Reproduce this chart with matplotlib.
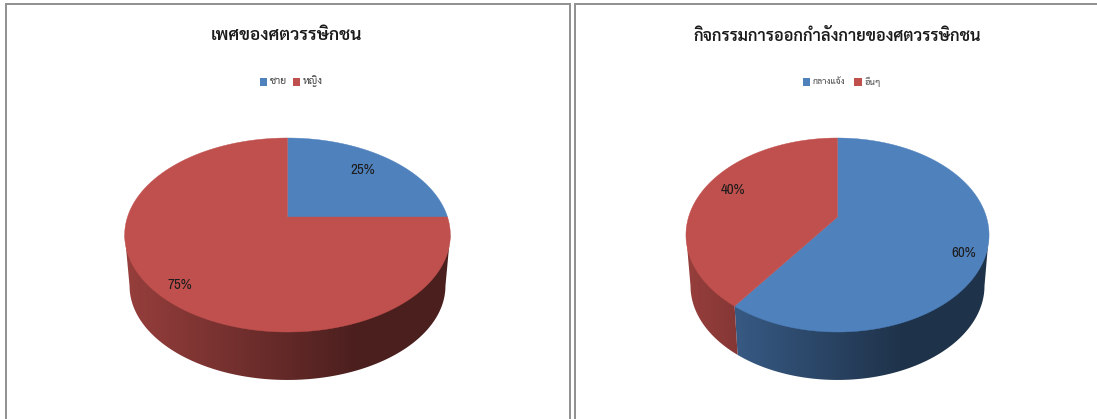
import numpy as np
import matplotlib
matplotlib.use("Agg")
import matplotlib.pyplot as plt
from matplotlib.patches import Polygon, Rectangle

plt.rcParams['font.family'] = ['Sarabun', 'Noto Sans Thai', 'FreeSerif', 'DejaVu Sans']

W, H = 1097, 419

gender_title = "เพศของศตวรรษิกชน"
gender_labels = ["ชาย", "หญิง"]
gender_values = [25, 75]

activity_title = "กิจกรรมการออกกำลังกายของศตวรรษิกชน"
activity_labels = ["กลางแจ้ง", "อื่นๆ"]
activity_values = [60, 40]

BLUE = np.array([79, 129, 189]) / 255
RED = np.array([192, 80, 77]) / 255
FRAME = "#8f8f8f"

# Perspective of the tilted disc
TILT = 0.1856
DEPTH_SCALE = 0.97
Y_APEX = 217.0
Y_APEX_LOW = 268.4
Y_RADIUS = 93.66
# Where the wall meets the outline of the top face, on either side
WALL_START = np.arccos(-TILT)
WALL_END = 2 * np.pi - WALL_START


def rim(theta, cx, rx, low=False):
    """Screen position of the disc rim, theta clockwise from twelve o'clock."""
    w = 1 + TILT * np.cos(theta)
    s = DEPTH_SCALE if low else 1.0
    y0 = Y_APEX_LOW if low else Y_APEX
    return cx + s * rx * np.sin(theta) / w, y0 - s * Y_RADIUS * np.cos(theta) / w


def wall_gradient(col, cx, rx):
    """Horizontal ramp for the side wall, dark from just right of the middle."""
    xs = np.linspace(cx - rx * 1.03, cx + rx * 1.03, 512)
    t = np.clip((xs - (cx - rx)) / (1.44 * rx), 0, 1)
    shade = 0.78 - 0.39 * t
    return (shade[:, None] * col)[None, :, :], (xs[0], xs[-1])


def draw_pie(ax, cx, rx, values, colors):
    total = sum(values)
    edges = np.concatenate([[0], np.cumsum(values)]) / total * 2 * np.pi
    # Side wall: one clipped gradient for each slice facing the viewer
    for start, end, col in zip(edges[:-1], edges[1:], colors):
        a, b = max(start, WALL_START), min(end, WALL_END)
        if a >= b:
            continue
        t = np.linspace(a, b, 300)
        xt, yt = rim(t, cx, rx)
        xb, yb = rim(t, cx, rx, low=True)
        outline = np.column_stack([np.r_[xt, xb[::-1]], np.r_[yt - 1.5, yb[::-1]]])
        clip = Polygon(outline, closed=True, transform=ax.transData, facecolor="none", edgecolor="none")
        ax.add_patch(clip)
        ramp, (x0, x1) = wall_gradient(col, cx, rx)
        im = ax.imshow(ramp, extent=(x0, x1, 400, 200), aspect="auto", interpolation="bilinear", zorder=1)
        im.set_clip_path(clip)
    # Top face slices
    for start, end, col in zip(edges[:-1], edges[1:], colors):
        t = np.linspace(start, end, 400)
        xs, ys = rim(t, cx, rx)
        pts = np.column_stack([np.r_[cx, xs], np.r_[Y_APEX, ys]])
        ax.add_patch(Polygon(pts, closed=True, facecolor=col, edgecolor=col, linewidth=0.3, zorder=2))


def draw_legend(ax, labels, colors, swatch_x, text_x, size):
    for label, col, sx, tx in zip(labels, colors, swatch_x, text_x):
        ax.add_patch(Rectangle((sx, 78), 7.5, 8, facecolor=col, edgecolor="none"))
        ax.text(tx, 81.5, label, fontsize=size, color="#404040", ha="left", va="center")


fig = plt.figure(figsize=(W / 100, H / 100), dpi=100)
ax = fig.add_axes([0, 0, 1, 1])
ax.axis("off")

# Chart frames
for x0, x1 in [(6, 570), (574.5, W + 5)]:
    ax.plot([x0, x0, x1, x1], [H + 5, 4.5, 4.5, H + 5], color=FRAME, lw=1.4, solid_joinstyle="miter")

colors = [BLUE, RED]
draw_pie(ax, 287.5, 160.0, gender_values, colors)
draw_pie(ax, 837.5, 148.9, activity_values, colors)

ax.set_xlim(0, W)
ax.set_ylim(H, 0)

ax.text(287, 36, gender_title, fontsize=12.6, fontweight="semibold", color="#1a1a1a", ha="center", va="center")
ax.text(837, 36, activity_title, fontsize=11.8, fontweight="semibold", color="#1a1a1a", ha="center", va="center")

draw_legend(ax, gender_labels, colors, [259.5, 292.5], [270, 303], 7.5)
draw_legend(ax, activity_labels, colors, [802.5, 854], [813, 865], 6.4)

# Percentage labels
percent_font = ['Archivo Narrow', 'DejaVu Sans']
for x, y, v in [(363, 170, gender_values[0]), (179.5, 285, gender_values[1]),
                (964, 253, activity_values[0]), (733, 190, activity_values[1])]:
    ax.text(x, y, f"{v}%", fontsize=10.8, color="#1c1c1c", ha="center", va="center", family=percent_font, zorder=3)

fig.savefig("out.png", dpi=100)
